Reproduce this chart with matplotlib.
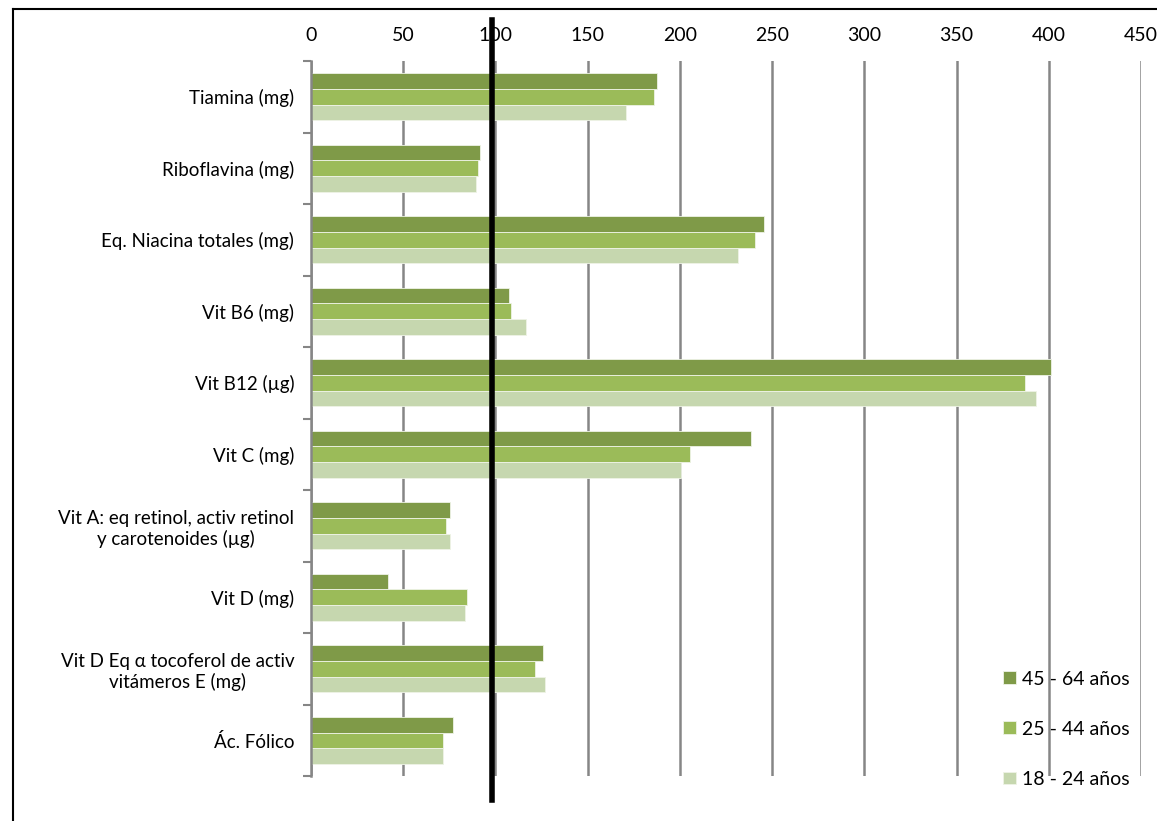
import numpy as np
import matplotlib
matplotlib.use('Agg')
from matplotlib import pyplot as plt
from matplotlib.lines import Line2D

categories = ['Tiamina (mg)', 'Riboflavina (mg)', 'Eq. Niacina totales (mg)',
              'Vit B6 (mg)', 'Vit B12 (µg)', 'Vit C (mg)',
              'Vit A: eq retinol, activ retinol\ny carotenoides (µg)',
              'Vit D (mg)', 'Vit D Eq α tocoferol de activ\nvitámeros E (mg)',
              'Ác. Fólico']
series_names = ['45 - 64 años', '25 - 44 años', '18 - 24 años']
v45_64 = [187.6, 91.6, 245.6, 107.4, 401, 238.6, 75.4, 41.7, 125.8, 76.8]
v25_44 = [186.0, 90.5, 240.7, 108.4, 387, 205.5, 73.2, 84.8, 121.6, 71.8]
v18_24 = [170.8, 89.5, 231.5, 116.6, 393, 200.6, 75.4, 83.7, 126.9, 71.8]
reference = 98
colors = ['#7f9a48', '#9bbb59', '#c6d7af']

plt.rcParams['font.family'] = ['Lato', 'DejaVu Sans']

fig = plt.figure(figsize=(11.57, 8.21), dpi=100)
ax = fig.add_axes([0.2688, 0.0548, 0.9862 - 0.2688, 0.9257 - 0.0548])

y = np.arange(len(categories))
h = 0.217
for i, vals in enumerate([v45_64, v25_44, v18_24]):
    ax.barh(y + (i - 1) * h, vals, height=h, color=colors[i],
            edgecolor='#eef3e6', linewidth=0.6, label=series_names[i], zorder=2)

ax.set_xlim(0, 450)
ax.set_ylim(len(categories) - 0.5, -0.5)
ax.set_xticks(np.arange(0, 451, 50))
ax.xaxis.tick_top()
ax.tick_params(axis='x', length=0, pad=12, labelsize=14)
ax.grid(axis='x', color='#868686', linewidth=1.8, zorder=1)

ax.set_yticks(y)
ax.set_yticklabels(categories, fontsize=13.5, multialignment='center')
ax.tick_params(axis='y', length=0, pad=12)
ax.set_yticks(np.arange(-0.5, len(categories), 1), minor=True)
ax.tick_params(axis='y', which='minor', length=6, width=1.5, color='#868686')

for s in ['top', 'right', 'bottom']:
    ax.spines[s].set_visible(False)
ax.spines['left'].set_color('#868686')
ax.spines['left'].set_linewidth(1.8)
ax.spines['left'].set_zorder(3)

ax.axvline(reference, ymin=-0.034, ymax=1.057, color='black', linewidth=4,
           clip_on=False, zorder=4)

ax.legend(loc='lower right', bbox_to_anchor=(1.007, -0.041), frameon=False,
          fontsize=14, handlelength=0.65, handleheight=0.65, handletextpad=0.3,
          labelspacing=1.7)

fig.add_artist(Line2D([0.011, 0.011], [0, 0.989], color='black', linewidth=1.5))
fig.add_artist(Line2D([0.011, 1.0], [0.989, 0.989], color='black', linewidth=1.5))

fig.savefig('out.png', dpi=100)
